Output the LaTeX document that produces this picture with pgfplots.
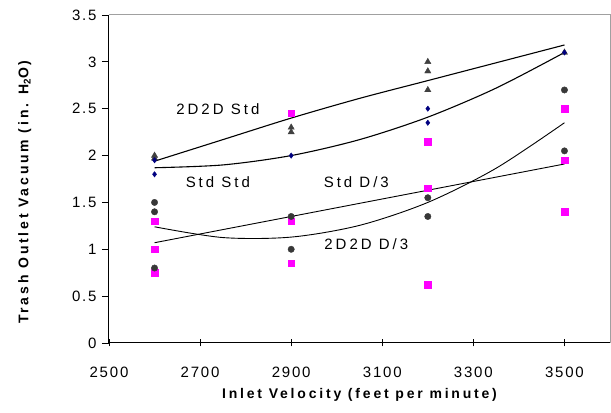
\documentclass[border=0pt]{standalone}
\usepackage{fontspec}
\setmainfont{Liberation Sans}
\newfontfamily\spaced{Liberation Sans}[LetterSpace=12]
\newfontfamily\spacedl{Liberation Sans}[LetterSpace=20]
\usepackage{pgfplots}
\pgfplotsset{compat=1.18}
\definecolor{tri}{HTML}{404040}
\definecolor{circ}{HTML}{383838}
\definecolor{navy}{HTML}{000080}
\definecolor{mag}{HTML}{FF00FF}
\definecolor{frame}{HTML}{A0A0A0}
\begin{document}
\begin{tikzpicture}
\begin{axis}[name=ax,
  scale only axis, width=501pt, height=328pt,
  xmin=2500, xmax=3600, ymin=0, ymax=3.5,
  xtick={2500,2700,2900,3100,3300,3500},
  ytick={0,0.5,1,1.5,2,2.5,3,3.5},
  axis x line*=bottom, axis y line*=left,
  axis line style={-, black, line width=1pt},
  tick style={black, line width=0.8pt},
  tick align=outside, major tick length=7pt,
  x tick style={yshift=3.5pt},
  /pgf/number format/assume math mode=true,
  xticklabel style={/pgf/number format/1000 sep=, font=\spaced\fontsize{15}{17}\selectfont, yshift=-14pt},
  yticklabel style={font=\spaced\fontsize{15}{17}\selectfont, xshift=-2pt},
  xlabel={Inlet Velocity (feet per minute)},
  ylabel={Trash Outlet Vacuum (in. H\textsubscript{2}O)},
  xlabel style={font=\spacedl\bfseries\fontsize{14}{16}\selectfont, at={(axis description cs:0.5,-0.157)}, anchor=center},
  ylabel style={font=\spacedl\bfseries\fontsize{14}{16}\selectfont, at={(axis description cs:-0.168,0.46)}, anchor=center},
  clip=false,
]
% frame (top and right)
\draw[frame, line width=1pt] (rel axis cs:0,1) -- (rel axis cs:1,1) -- (rel axis cs:1,0);
% trend lines
\addplot[black, line width=1.1pt, smooth] coordinates {(2600,1.94) (2750,2.17) (2900,2.40) (3050,2.61) (3200,2.80) (3350,2.99) (3500,3.18)};
\addplot[black, line width=1.1pt, smooth] coordinates {(2600,1.87) (2750,1.90) (2900,2.00) (3050,2.17) (3200,2.41) (3350,2.72) (3500,3.10)};
\addplot[black, line width=0.9pt, smooth] coordinates {(2600,1.24) (2750,1.125) (2900,1.13) (3050,1.255) (3200,1.50) (3350,1.865) (3500,2.35)};
\addplot[black, line width=0.9pt] coordinates {(2600,1.07) (2900,1.35) (3200,1.63) (3500,1.91)};
% data
\addplot[only marks, mark=square*, mark size=3.3pt, color=mag] coordinates {
 (2600,1.3) (2600,1.0) (2600,0.75) (2900,2.45) (2900,1.3) (2900,0.85)
 (3200,2.15) (3200,1.65) (3200,0.62) (3500,2.5) (3500,1.95) (3500,1.4)};
\addplot[only marks, mark=*, mark size=3.2pt, color=circ] coordinates {
 (2600,1.5) (2600,1.4) (2600,0.8) (2900,1.35) (2900,1.0)
 (3200,1.55) (3200,1.35) (3500,2.7) (3500,2.05)};
\addplot[only marks, mark=triangle*, mark size=3.6pt, color=tri] coordinates {
 (2600,2.0) (2600,1.97) (2900,2.3) (2900,2.25) (3200,3.0) (3200,2.9) (3200,2.7) (3500,3.1)};
\addplot[only marks, mark=diamond*, mark size=2.7pt, color=navy] coordinates {
 (2600,1.95) (2600,1.8) (2900,2.0) (3200,2.5) (3200,2.35) (3500,3.1)};
% annotations
\node[font=\spacedl\fontsize{15}{17}\selectfont] at (axis cs:2739,2.50) {2D2D Std};
\node[font=\spacedl\fontsize{15}{17}\selectfont] at (axis cs:2739,1.72) {Std Std};
\node[font=\spacedl\fontsize{15}{17}\selectfont] at (axis cs:3043,1.72) {Std D/3};
\node[font=\spacedl\fontsize{15}{17}\selectfont] at (axis cs:3065,1.05) {2D2D D/3};
\end{axis}
\pgfresetboundingbox
\path[use as bounding box] ([shift={(-109pt,-70pt)}]ax.south west) rectangle ([shift={(1pt,15pt)}]ax.north east);
\end{tikzpicture}
\end{document}
